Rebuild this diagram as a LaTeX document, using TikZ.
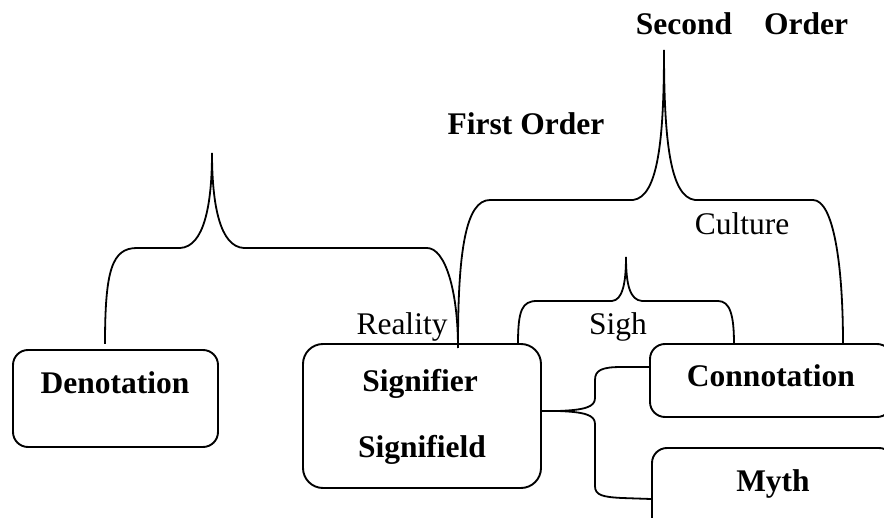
\documentclass[tikz,border=0pt]{standalone}
\usepackage{fontspec}
\setmainfont{Liberation Serif}
\begin{document}
\begin{tikzpicture}[x=1pt,y=-1pt,
  frame/.style={draw, line width=1.9pt, inner sep=0pt},
  brace/.style={line width=1.8pt},
  boldlabel/.style={font=\fontsize{31.5}{38}\selectfont\bfseries, anchor=base, inner sep=0pt},
  plainlabel/.style={font=\fontsize{31.5}{38}\selectfont, anchor=base, inner sep=0pt}]
\useasboundingbox (0,0) rectangle (884,518);
\clip (0,0) rectangle (884,518);

% boxes
\node[frame, rounded corners=15pt, minimum width=205pt, minimum height=97pt] (den) at (115.5,398.5) {};
\node[frame, rounded corners=20pt, minimum width=238pt, minimum height=144pt] (sig) at (422,416) {};
\node[frame, rounded corners=15pt, minimum width=242pt, minimum height=73pt] (con) at (771,380.5) {};
\node[frame, rounded corners=15pt, minimum width=242pt, minimum height=110pt] (myth) at (773,503) {};

% box texts
\node[boldlabel] (dentext) at (115,394) {Denotation};
\node[boldlabel] (sigtext1) at (420,392) {Signifier};
\node[boldlabel] (sigtext2) at (422,458) {Signifield};
\node[boldlabel] (context) at (771,387) {Connotation};
\node[boldlabel] (mythtext) at (773,492) {Myth};

% free labels
\node[boldlabel] (second) at (742,35) {Second\hspace{32pt}Order};
\node[boldlabel] (first) at (526,135) {First Order};
\node[plainlabel] (culture) at (742,235) {Culture};
\node[plainlabel] (reality) at (402,335) {Reality};
\node[plainlabel] (sigh) at (618,335) {Sigh};

% brace end points
\coordinate (fo-l) at (105,344);
\coordinate (fo-tip) at (212,153);
\coordinate (fo-r) at (458,348);
\coordinate (so-l) at (458,344);
\coordinate (so-tip) at (664,50);
\coordinate (so-r) at (843,344);
\coordinate (sg-l) at (518,344);
\coordinate (sg-tip) at (626,257);
\coordinate (sg-r) at (734,344);

% first order brace
\draw[brace] (fo-l) .. controls (105,270) and (112,248) .. (137,248) -- (180,248)
  .. controls (204,247) and (212,205) .. (fo-tip)
  .. controls (212,205) and (220,247) .. (244,248) -- (427,248)
  .. controls (445,248) and (458,290) .. (fo-r);

% second order brace
\draw[brace] (so-l) .. controls (458,250) and (466,200) .. (490,200) -- (633,200)
  .. controls (658,197) and (664,140) .. (so-tip)
  .. controls (664,140) and (670,197) .. (695,200) -- (813,200)
  .. controls (833,200) and (843,262) .. (so-r);

% sign brace
\draw[brace] (sg-l) .. controls (518,310) and (522,301) .. (537,301) -- (612,301)
  .. controls (622,300) and (626,285) .. (sg-tip)
  .. controls (626,285) and (630,300) .. (642,301) -- (718,301)
  .. controls (730,301) and (734,315) .. (sg-r);

% brace from the sign to connotation and myth
\coordinate (hb-tip) at (558,411);
\draw[brace] ([yshift=5pt]sig.east) -- (hb-tip)
  .. controls (585,410) and (595,407) .. (595,398) -- (595,380)
  .. controls (595,370) and (602,367) .. (622,367) -- ([yshift=13.5pt]con.west);
\draw[brace] (hb-tip)
  .. controls (585,412) and (595,415) .. (595,424) -- (595,486)
  .. controls (595,495) and (602,497) .. (622,498) -- ([yshift=4pt]myth.west);
\end{tikzpicture}
\end{document}
